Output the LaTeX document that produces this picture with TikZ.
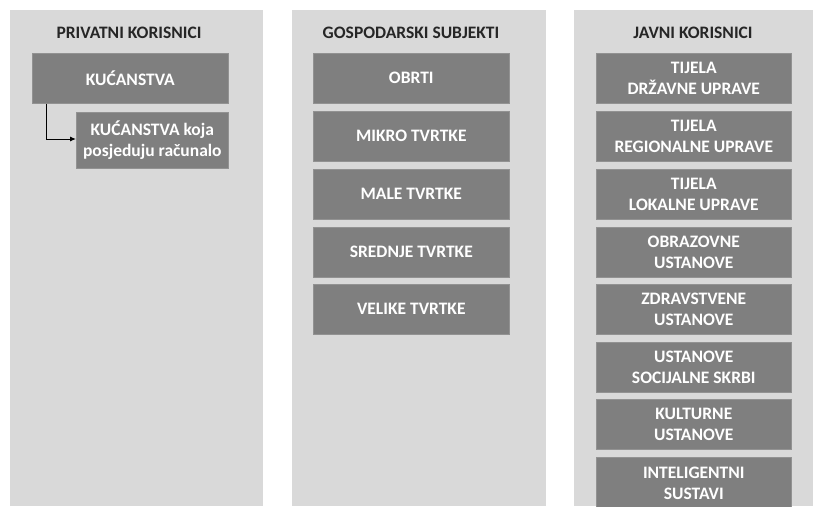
\documentclass[tikz,border=0pt]{standalone}
\usepackage{fontspec}
\setmainfont{Carlito}
\usetikzlibrary{arrows.meta}
\definecolor{panelgray}{HTML}{D9D9D9}
\definecolor{boxgray}{HTML}{7F7F7F}
\definecolor{titlecol}{HTML}{262626}
\tikzset{
  panel/.style={fill=panelgray, draw=none},
  itembox/.style={fill=boxgray, draw=boxgray!85!white, line width=0.6pt, text=white,
    font=\fontsize{17.5}{21}\selectfont\bfseries, align=center, anchor=north west, inner sep=0pt},
  ptitle/.style={text=titlecol, font=\fontsize{17.5}{21}\selectfont\bfseries, anchor=center},
  link/.style={draw=black, line width=1pt, -{Latex[length=6pt,width=5pt]}}
}
\begin{document}
\begin{tikzpicture}[x=1pt,y=-1pt]
\useasboundingbox (0,0) rectangle (813,506);
\fill[white] (0,0) rectangle (813,506);
% panels
\path[panel] (10,10) rectangle (263,506);
\path[panel] (292,10) rectangle (546,506);
\path[panel] (574,10) rectangle (813,506);
% titles
\node[ptitle] (t1) at (129,33) {PRIVATNI KORISNICI};
\node[ptitle] (t2) at (411,33) {GOSPODARSKI SUBJEKTI};
\node[ptitle] (t3) at (693,33) {JAVNI KORISNICI};
% panel 1
\node[itembox, minimum width=196pt, minimum height=50pt] (k1) at (32,53) {KUĆANSTVA};
\node[itembox, minimum width=152pt, minimum height=56pt] (k2) at (76,112) {KUĆANSTVA koja\\posjeduju računalo};
\draw[link] (k1.south west -| 46,0) |- (k2.west |- 0,139);
% panel 2
\foreach \y/\n/\t in {53/g1/OBRTI, 111/g2/MIKRO TVRTKE, 169/g3/MALE TVRTKE, 227/g4/SREDNJE TVRTKE, 284/g5/VELIKE TVRTKE}{
  \node[itembox, minimum width=196pt, minimum height=50pt] (\n) at (313,\y) {\t};
}
% panel 3
\foreach \y/\n/\t in {53/j1/{TIJELA\\DRŽAVNE UPRAVE}, 111/j2/{TIJELA\\REGIONALNE UPRAVE}, 169/j3/{TIJELA\\LOKALNE UPRAVE}, 227/j4/{OBRAZOVNE\\USTANOVE}, 284/j5/{ZDRAVSTVENE\\USTANOVE}, 342/j6/{USTANOVE\\SOCIJALNE SKRBI}, 399/j7/{KULTURNE\\USTANOVE}}{
  \node[itembox, minimum width=195pt, minimum height=50pt] (\n) at (596,\y) {\t};
}
\node[itembox, minimum width=195pt, minimum height=52pt] (j8) at (596,457) {INTELIGENTNI\\SUSTAVI};
\end{tikzpicture}
\end{document}
